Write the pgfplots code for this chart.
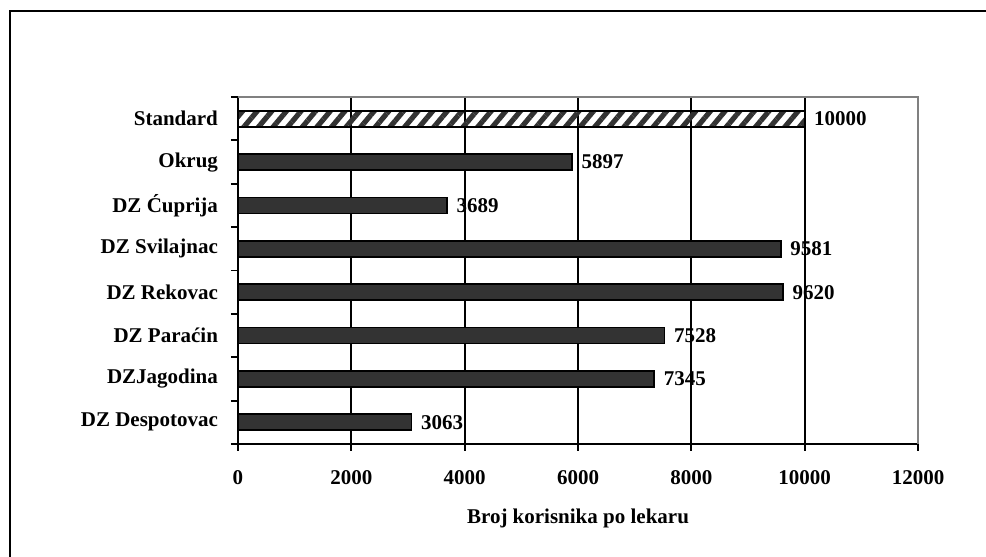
\documentclass[border=0pt]{standalone}
\usepackage{fontspec}
\setmainfont{Liberation Serif}
\usepackage{pgfplots}
\pgfplotsset{compat=1.18}
\usetikzlibrary{patterns.meta}
\definecolor{bardark}{HTML}{333333}
\definecolor{bordergray}{HTML}{808080}
\newcommand{\lblfont}{\bfseries\fontsize{10.5}{12.5}\selectfont}
\begin{document}
\begin{tikzpicture}[font=\lblfont]
\useasboundingbox (0pt,0pt) rectangle (493pt,278.5pt);
\draw[line width=1pt] (5pt,0pt) -- (5pt,273pt) -- (493pt,273pt);
\begin{axis}[
  at={(119pt,56.5pt)}, anchor=south west,
  scale only axis, width=340pt, height=173.5pt,
  xmin=0, xmax=12000, ymin=-0.5, ymax=7.5,
  xtick={0,2000,...,12000},
  xticklabel style={/pgf/number format/1000 sep={}, font=\lblfont, yshift=-6pt},
  yticklabel style={font=\lblfont, xshift=-3pt},
  /pgf/number format/assume math mode=true,
  scaled x ticks=false,
  ytick={0,...,7},
  yticklabels={DZ Despotovac,DZJagodina,DZ Para\'cin,DZ Rekovac,DZ Svilajnac,DZ \'Cuprija,Okrug,Standard},
  minor ytick={-0.5,0.5,...,7.5},
  major tick length=3.5pt,
  minor tick length=3.5pt,
  tick align=outside,
  major y tick style={draw=none},
  tick style={black, line width=0.9pt},
  xmajorgrids, grid style={black, line width=0.9pt},
  axis line style={line width=0.9pt},
  axis x line*=bottom, axis y line*=left,
  xlabel={Broj korisnika po lekaru},
  xlabel style={font=\lblfont, yshift=-5.5pt},
  xbar, bar width=8pt, bar shift=0pt,
  nodes near coords,
  nodes near coords style={anchor=west, xshift=1pt, font=\lblfont, /pgf/number format/1000 sep={}},
  clip=false,
]
\draw[bordergray, line width=0.9pt] (axis cs:0,7.5) -- (axis cs:12000,7.5) -- (axis cs:12000,-0.5);
\addplot[draw=black, line width=0.9pt, fill=bardark] coordinates {
  (3063,0) (7345,1) (7528,2) (9620,3) (9581,4) (3689,5) (5897,6)
};
\addplot[draw=black, line width=0.9pt, pattern={Lines[angle=50,distance=5.6pt,line width=2.6pt]}, pattern color=bardark] coordinates {
  (10000,7)
};
\end{axis}
\end{tikzpicture}
\end{document}
